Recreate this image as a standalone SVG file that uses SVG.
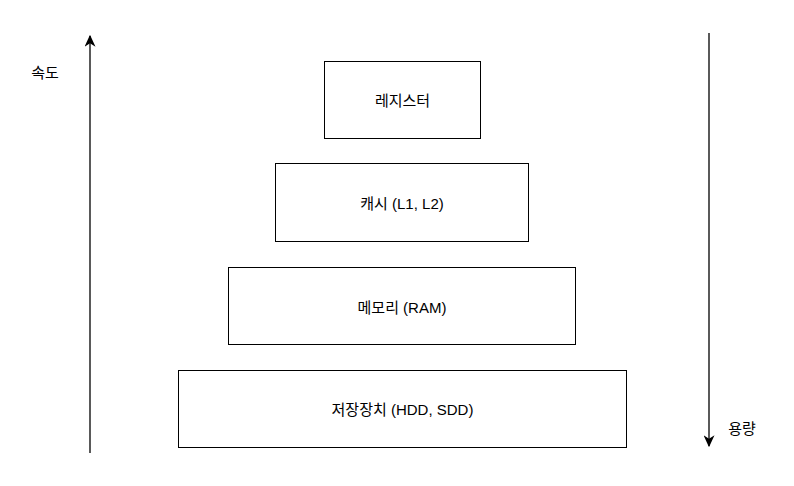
<svg xmlns="http://www.w3.org/2000/svg" width="794" height="486" viewBox="0 0 794 486">
<style>
.box{fill:#fff;stroke:#000;stroke-width:1}
.t{font-family:"Liberation Sans","Noto Sans CJK KR",sans-serif;font-size:15px;fill:#000;text-anchor:middle;dominant-baseline:central}
.c{stroke:#000;stroke-width:1.3;fill:none}
</style>
<defs>
<marker id="ah" viewBox="0 0 10 10" refX="9" refY="5" markerWidth="12" markerHeight="11" markerUnits="userSpaceOnUse" orient="auto" preserveAspectRatio="none">
<path d="M0,0 L10,5 L0,10 L3,5 Z" fill="#000"/>
</marker>
</defs>
<rect width="794" height="486" fill="#fff"/>
<g id="connectors">
<line class="c" x1="90" y1="453" x2="90" y2="36" marker-end="url(#ah)"/>
<line class="c" x1="709" y1="33" x2="709" y2="446" marker-end="url(#ah)"/>
</g>
<g id="speed-label"><text class="t" x="45" y="72">속도</text></g>
<g id="capacity-label"><text class="t" x="742" y="428">용량</text></g>
<g id="register"><rect class="box" x="324.5" y="61.5" width="156" height="77"/><text class="t" x="402.5" y="100">레지스터</text></g>
<g id="cache"><rect class="box" x="275.5" y="163.5" width="253" height="78"/><text class="t" x="402" y="203">캐시 (L1, L2)</text></g>
<g id="ram"><rect class="box" x="228.5" y="267.5" width="347" height="77"/><text class="t" x="402" y="307">메모리 (RAM)</text></g>
<g id="storage"><rect class="box" x="178.5" y="370.5" width="448" height="77"/><text class="t" x="402.5" y="409">저장장치 (HDD, SDD)</text></g>
</svg>
